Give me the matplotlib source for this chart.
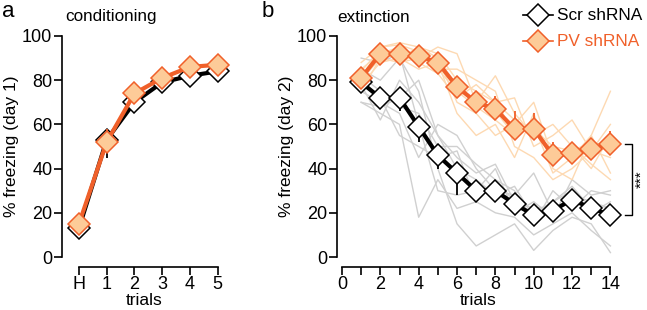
import matplotlib.pyplot as plt
from matplotlib.lines import Line2D

plt.rcParams['font.family'] = ['Liberation Sans', 'DejaVu Sans']
plt.rcParams['font.size'] = 13

# conditioning (day 1)
cond_x = [0, 1, 2, 3, 4, 5]
cond_labels = ["H", "1", "2", "3", "4", "5"]
cond_scr = [13, 53, 70, 79, 82, 84]
cond_scr_err = [3, 8, 5, 4, 5, 5]
cond_pv = [15, 52, 74, 81, 86, 87]
cond_pv_err = [3, 6, 4, 5, 4, 3]

# extinction (day 2)
trials = list(range(1, 15))
ext_scr = [79, 72, 72, 59, 46, 38, 30, 30, 24, 19, 21, 26, 22, 19]
ext_scr_err = [3, 5, 6, 7, 6, 10, 4, 4, 4, 4, 3, 4, 5, 4]
ext_pv = [81, 92, 92, 91, 88, 77, 70, 67, 58, 58, 46, 47, 49, 51]
ext_pv_err = [3, 3, 3, 3, 3, 4, 5, 6, 8, 7, 6, 5, 5, 6]

# individual animals
scr_animals = [
    [70, 65, 60, 18, 35, 22, 25, 20, 18, 10, 15, 20, 12, 5],
    [85, 80, 90, 75, 40, 15, 5, 10, 15, 3, 12, 18, 15, 2],
    [78, 62, 80, 70, 55, 40, 35, 28, 32, 18, 25, 30, 20, 25],
    [90, 88, 92, 60, 30, 28, 30, 40, 20, 25, 18, 35, 28, 30],
    [75, 70, 65, 45, 60, 55, 40, 30, 28, 38, 20, 28, 25, 22],
    [80, 72, 55, 50, 45, 48, 25, 35, 30, 15, 30, 22, 30, 28],
    [70, 68, 72, 80, 55, 45, 38, 42, 25, 20, 25, 32, 22, 18],
    [82, 75, 68, 65, 50, 50, 42, 35, 25, 22, 23, 25, 24, 22],
]
pv_animals = [
    [80, 95, 97, 95, 90, 70, 65, 55, 60, 70, 45, 50, 40, 55],
    [75, 90, 88, 92, 85, 85, 80, 75, 50, 45, 35, 40, 48, 60],
    [85, 92, 95, 90, 95, 92, 70, 82, 65, 55, 60, 50, 42, 35],
    [78, 88, 90, 85, 88, 65, 55, 60, 45, 65, 40, 35, 55, 75],
    [82, 93, 90, 95, 92, 80, 75, 70, 72, 50, 55, 62, 48, 45],
    [88, 95, 96, 93, 85, 75, 68, 62, 55, 60, 38, 45, 55, 38],
    [80, 90, 92, 88, 83, 72, 78, 70, 62, 58, 50, 48, 52, 50],
    [84, 94, 88, 90, 86, 77, 70, 66, 55, 60, 45, 46, 52, 50],
]

ORANGE = "#f0602a"
PEACH = "#fdcb98"
LIGHT_OR = "#fdd9b2"
GREY = "#d0d0d0"
MS = 11

fig = plt.figure(figsize=(6.47, 3.10), dpi=100)
ax1 = fig.add_axes([62 / 647, 53 / 310, 164 / 647, 221 / 310])
ax2 = fig.add_axes([337 / 647, 53 / 310, 283 / 647, 221 / 310])


def style_axis(ax):
    for s in ["top", "right"]:
        ax.spines[s].set_visible(False)
    ax.spines["bottom"].set_position(("outward", 7))
    ax.spines["left"].set_linewidth(1.2)
    ax.spines["bottom"].set_linewidth(1.2)
    ax.tick_params(width=1.2, length=6, pad=1)
    ax.set_ylim(0, 100)
    ax.set_yticks([0, 20, 40, 60, 80, 100])
    ax.spines["left"].set_bounds(0, 100)


def draw_means(ax, x, scr, scr_err, pv, pv_err):
    ax.errorbar(x, scr, yerr=[scr_err, [0] * len(scr)], fmt="none",
                ecolor="black", elinewidth=1.3, capsize=0, zorder=4, clip_on=False)
    ax.plot(x, scr, color="black", lw=3, marker="D", ms=MS, mfc="white",
            mec="black", mew=1.1, zorder=5, clip_on=False)
    ax.errorbar(x, pv, yerr=[[0] * len(pv), pv_err], fmt="none",
                ecolor=ORANGE, elinewidth=1.3, capsize=0, zorder=6, clip_on=False)
    ax.plot(x, pv, color=ORANGE, lw=3, marker="D", ms=MS, mfc=PEACH,
            mec=ORANGE, mew=1.1, zorder=7, clip_on=False)


# panel a
style_axis(ax1)
draw_means(ax1, cond_x, cond_scr, cond_scr_err, cond_pv, cond_pv_err)
ax1.set_xlim(-0.61, 5.3)
ax1.set_xticks(cond_x)
ax1.set_xticklabels(cond_labels)
ax1.spines["bottom"].set_bounds(0, 5)
ax1.set_xlabel("trials", labelpad=0, fontsize=12.5)
ax1.set_ylabel("% freezing (day 1)", labelpad=2, fontsize=12.5)

# panel b
style_axis(ax2)
for a in scr_animals:
    ax2.plot(trials, a, color=GREY, lw=1.0, zorder=1)
for a in pv_animals:
    ax2.plot(trials, a, color=LIGHT_OR, lw=1.0, zorder=2)
draw_means(ax2, trials, ext_scr, ext_scr_err, ext_pv, ext_pv_err)
ax2.set_xlim(-0.26, 14.5)
ax2.set_xticks(range(0, 15))
ax2.set_xticklabels([str(i) if i % 2 == 0 else "" for i in range(0, 15)])
ax2.spines["bottom"].set_bounds(0, 14)
ax2.set_xlabel("trials", labelpad=0, fontsize=12.5)
ax2.set_ylabel("% freezing (day 2)", labelpad=2, fontsize=12.5)

# significance bracket
bx = 15.1
ax2.plot([bx - 0.35, bx, bx, bx - 0.35], [ext_pv[-1], ext_pv[-1], ext_scr[-1], ext_scr[-1]],
         color="black", lw=1.0, clip_on=False)
ax2.text(bx + 0.5, (ext_pv[-1] + ext_scr[-1]) / 2, "***", rotation=90,
         ha="center", va="center", fontsize=11)

# titles
fig.text(65 / 647, 1 - 17 / 310, "conditioning", fontsize=12.3, va="center", ha="left")
fig.text(337 / 647, 1 - 17 / 310, "extinction", fontsize=12.3, va="center", ha="left")

# legend
for yy, col, face, lab in [(1 - 15 / 310, "black", "white", "Scr shRNA"),
                           (1 - 41 / 310, ORANGE, PEACH, "PV shRNA")]:
    fig.add_artist(Line2D([523 / 647, 553 / 647], [yy, yy], color=col, lw=1.2))
    fig.add_artist(Line2D([538 / 647], [yy], marker="D", ms=MS, mfc=face,
                          mec=col, mew=1.1, color=col))
    fig.text(557 / 647, yy, lab, color=col, fontsize=12.4, va="center", ha="left")

fig.text(2 / 647, 1 - 1 / 310, "a", fontsize=16, va="top", ha="left")
fig.text(262 / 647, 1 - 1 / 310, "b", fontsize=16, va="top", ha="left")

fig.savefig("out.png", dpi=100)
